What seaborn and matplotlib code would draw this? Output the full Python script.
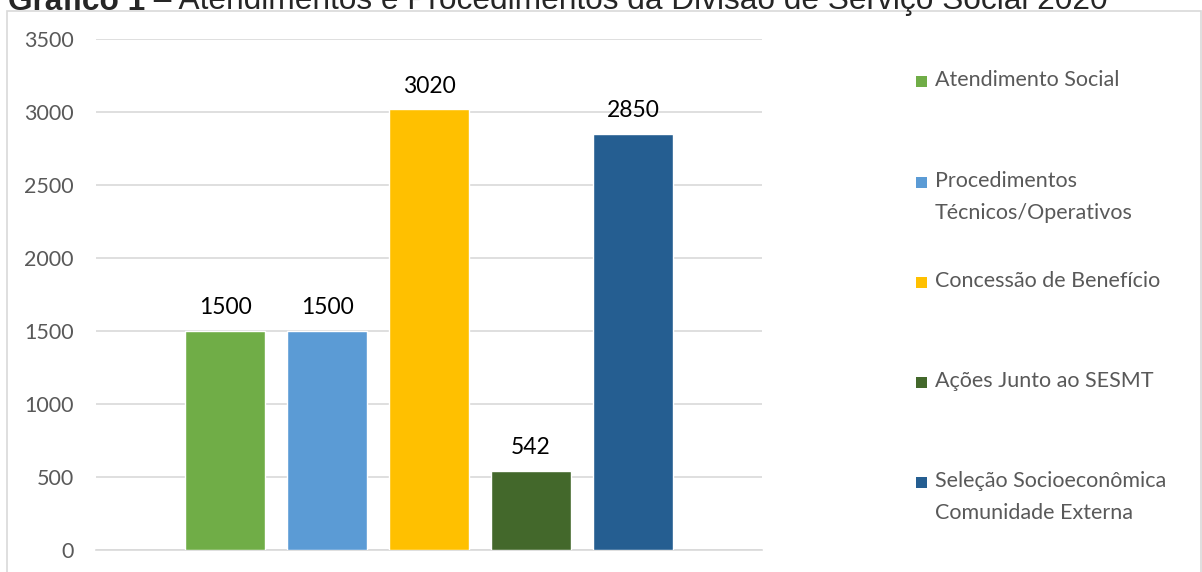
import matplotlib
matplotlib.use("Agg")
import matplotlib.pyplot as plt
from matplotlib.patches import Rectangle
import seaborn as sns
import pandas as pd

categories = [
    "Atendimento Social",
    "Procedimentos\nTécnicos/Operativos",
    "Concessão de Benefício",
    "Ações Junto ao SESMT",
    "Seleção Socioeconômica\nComunidade Externa",
]
values = [1500, 1500, 3020, 542, 2850]
colors = ["#70AD47", "#5B9BD5", "#FFC000", "#43682B", "#255E91"]
yticks = [0, 500, 1000, 1500, 2000, 2500, 3000, 3500]
title_bold = "Gráfico 1"
title_rest = " – Atendimentos e Procedimentos da Divisão de Serviço Social 2020"

sns.set_theme(style="white")
plt.rcParams["font.family"] = ["Lato", "DejaVu Sans"]

W, H = 1202, 572
fig = plt.figure(figsize=(W / 100, H / 100), dpi=100)
ax = fig.add_axes([96 / W, 1 - 550 / H, (762 - 96) / W, (550 - 39) / H])

df = pd.DataFrame({"cat": categories, "val": values})
sns.barplot(data=df, x="cat", y="val", hue="cat", palette=colors,
            width=0.79, legend=False, ax=ax, zorder=3, saturation=1)

ax.set_xlim(2 - 3.265, 2 + 3.265)
ax.set_ylim(0, 3500)
ax.set_yticks(yticks)
ax.set_yticklabels([str(t) for t in yticks], color="#595959", fontsize=15.5)
ax.set_xticks([])
ax.set_xlabel("")
ax.set_ylabel("")
ax.tick_params(axis="y", length=0, pad=16)
ax.grid(axis="y", color="#D9D9D9", linewidth=1.2, zorder=0)
for s in ["top", "right", "left"]:
    ax.spines[s].set_visible(False)
ax.spines["bottom"].set_color("#D9D9D9")
ax.spines["bottom"].set_linewidth(1.2)

for cont in ax.containers:
    ax.bar_label(cont, labels=[f"{v:.0f}" for v in cont.datavalues],
                 padding=9, fontsize=16.5, color="black")

# outer frame of the chart area
fig.patches.append(Rectangle((7 / W, -0.05), (W - 8) / W, 1 - 11 / H + 0.05,
                             transform=fig.transFigure, fill=False,
                             edgecolor="#D9D9D9", linewidth=1.2))

# legend entries
leg_y = [82, 183, 283, 383, 483]
for lab, c, y in zip(categories, colors, leg_y):
    fig.patches.append(Rectangle((916 / W, 1 - (y + 5) / H), 11 / W, 11 / H,
                                 transform=fig.transFigure, facecolor=c,
                                 edgecolor="none"))
    fig.text(935 / W, 1 - (y - 12) / H, lab, ha="left", va="top",
             fontsize=15.5, color="#595959", linespacing=1.75)

# title, running off the top edge of the figure
t1 = fig.text(8 / W, 1 - 9.5 / H, title_bold, ha="left", va="baseline",
              fontsize=22.8, fontweight="bold", family="Liberation Sans")
fig.canvas.draw()
bb = t1.get_window_extent()
fig.text(bb.x1 / W, 1 - 9.5 / H, title_rest, ha="left", va="baseline",
         fontsize=22.8, family="Liberation Sans")

fig.savefig("out.png", dpi=100)
